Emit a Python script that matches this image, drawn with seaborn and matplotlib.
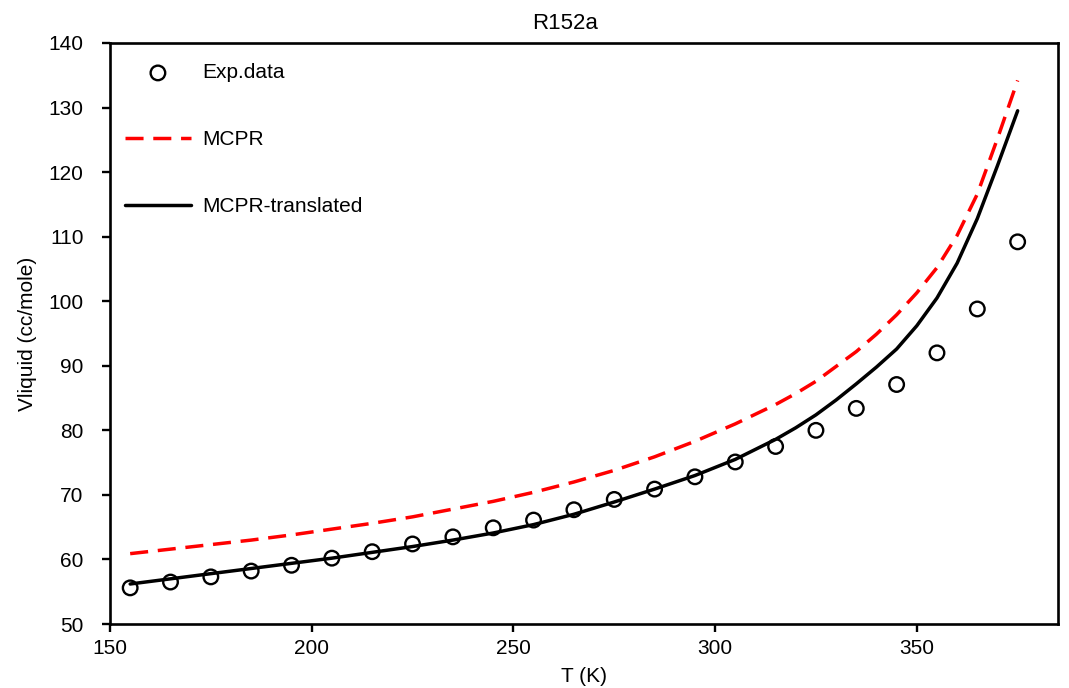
import matplotlib
matplotlib.use("Agg")
import matplotlib.pyplot as plt
import seaborn as sns
import pandas as pd

# Experimental saturated liquid volume of R152a
exp_T = [155, 165, 175, 185, 195, 205, 215, 225, 235, 245, 255, 265,
         275, 285, 295, 305, 315, 325, 335, 345, 355, 365, 375]
exp_V = [55.6, 56.5, 57.3, 58.2, 59.1, 60.2, 61.2, 62.4, 63.5, 64.9, 66.1, 67.7,
         69.3, 70.9, 72.8, 75.1, 77.5, 80.0, 83.4, 87.1, 92.0, 98.8, 109.2]

# Model predictions
model_T = [155, 165, 175, 185, 195, 205, 215, 225, 235, 245, 255, 265,
           275, 285, 295, 305, 315, 320, 325, 330, 335, 340, 345, 350,
           355, 360, 365, 370, 375]
mcpr_V = [60.9, 61.6, 62.3, 63.0, 63.8, 64.7, 65.6, 66.6, 67.8, 69.0, 70.4, 72.0,
          73.8, 75.9, 78.3, 81.0, 84.0, 85.7, 87.6, 89.9, 92.2, 94.9, 97.9, 101.3,
          105.2, 110.2, 116.6, 125.2, 134.2]
mcpr_tr_V = [56.2, 57.0, 57.8, 58.6, 59.4, 60.2, 61.1, 62.0, 63.0, 64.1, 65.4, 67.0,
             68.9, 70.9, 73.0, 75.5, 78.6, 80.4, 82.4, 84.7, 87.2, 89.8, 92.6, 96.2,
             100.5, 105.9, 112.8, 121.0, 129.5]

x_ticks = [150, 200, 250, 300, 350]
y_ticks = [50, 60, 70, 80, 90, 100, 110, 120, 130, 140]

sns.set_theme(style="ticks")
plt.rcParams["font.family"] = ["Liberation Sans", "DejaVu Sans"]
plt.rcParams["text.color"] = "black"
plt.rcParams["axes.labelcolor"] = "black"

exp_df = pd.DataFrame({"T": exp_T, "V": exp_V})
mod_df = pd.DataFrame({"T": model_T, "MCPR": mcpr_V, "MCPR-translated": mcpr_tr_V})

fig = plt.figure(figsize=(10.69, 6.88), dpi=100)
ax = fig.add_axes([0.1029, 0.093, 0.8868, 0.8445])

sns.scatterplot(data=exp_df, x="T", y="V", ax=ax, marker="o", s=110,
                facecolor="none", edgecolor="black", linewidth=1.7,
                label="Exp.data", zorder=3)
sns.lineplot(data=mod_df, x="T", y="MCPR", ax=ax, color="#ff0000",
             linewidth=2.5, label="MCPR")
ax.lines[-1].set_dashes((5.2, 2.8))
sns.lineplot(data=mod_df, x="T", y="MCPR-translated", ax=ax, color="black",
             linewidth=2.5, label="MCPR-translated")

ax.set_xlim(150, 385)
ax.set_ylim(50, 140)
ax.set_xticks(x_ticks)
ax.set_yticks(y_ticks)
ax.tick_params(axis="both", labelsize=15, length=6, width=1.7, direction="out",
               colors="black")
ax.tick_params(axis="x", pad=5)
ax.tick_params(axis="y", pad=13)
for sp in ax.spines.values():
    sp.set_visible(True)
    sp.set_linewidth(1.9)
    sp.set_color("black")

ax.set_xlabel("T (K)", fontsize=15, labelpad=6)
ax.set_ylabel("Vliquid (cc/mole)", fontsize=15, labelpad=8)
ax.set_title("R152a", fontsize=16, pad=10, x=0.48)

leg = ax.legend(loc="upper left", frameon=False, fontsize=15,
                labelspacing=2.3, handlelength=3.2, handletextpad=0.55,
                borderaxespad=0.3, bbox_to_anchor=(0.0, 0.99))
for line in leg.get_lines():
    line.set_linewidth(2.5)

fig.savefig("out.png", dpi=100)
